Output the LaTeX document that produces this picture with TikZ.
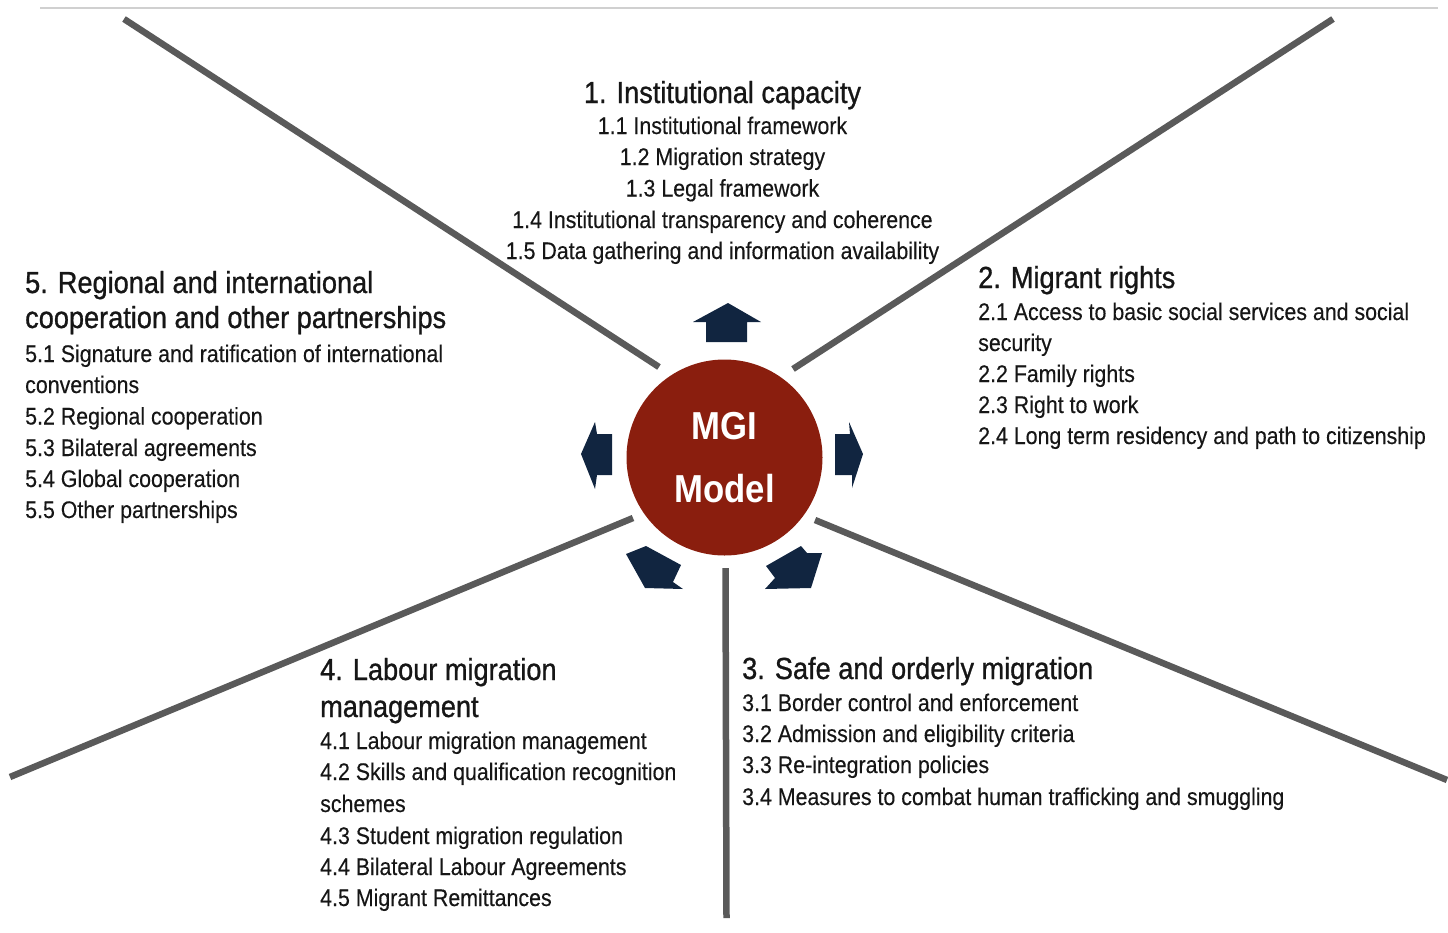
\documentclass[tikz,border=0pt]{standalone}
\usepackage{fontspec}
\setmainfont{Liberation Sans}
\newfontfamily\narrowsans[FakeStretch=0.89]{Liberation Sans}
\newfontfamily\narrowitem[FakeStretch=0.89, FakeBold=0.3]{Liberation Sans}
\newfontfamily\narrowhead[FakeStretch=0.89, FakeBold=0.9]{Liberation Sans}
\definecolor{spokegray}{RGB}{90,90,90}
\definecolor{rulegray}{RGB}{208,208,208}
\definecolor{mgired}{RGB}{138,30,14}
\definecolor{navy}{RGB}{17,37,64}
\definecolor{ink}{RGB}{22,22,22}
\tikzset{
  spoke/.style={draw=spokegray, line width=6.5pt},
  blockarrow/.style={fill=navy, draw=none},
  head/.style={inner sep=0pt, text=ink, font=\narrowhead\fontsize{30.5}{36}\selectfont},
  item/.style={inner sep=0pt, text=ink, font=\narrowitem\fontsize{24}{31}\selectfont},
  lft/.style={anchor=base west},
  mid/.style={anchor=base},
}
\begin{document}
\begin{tikzpicture}[x=1pt, y=-1pt]
\useasboundingbox (0,0) rectangle (1448,932);

% thin rule along the top
\coordinate (ruleL) at (40,8);
\coordinate (ruleR) at (1438,8);
\draw[rulegray, line width=1.5pt] (ruleL) -- (ruleR);

% central circle
\node[circle, fill=mgired, minimum size=196pt, inner sep=0pt, text=white,
      align=center, font=\narrowsans\bfseries\fontsize{39}{63}\selectfont]
  (mgi) at (724.5,457.5) {MGI\\Model};

% spokes separating the five areas
\coordinate (ulOut) at (124,19);   \coordinate (ulIn) at (659,367);
\coordinate (urOut) at (1333,19);  \coordinate (urIn) at (793,369);
\coordinate (llOut) at (10,777);   \coordinate (llIn) at (633,518);
\coordinate (lrOut) at (1447,780); \coordinate (lrIn) at (815,520);
\coordinate (bIn) at (725.5,568);  \coordinate (bOut) at (726.5,918);
\draw[spoke] (ulOut) -- (ulIn);
\draw[spoke] (urOut) -- (urIn);
\draw[spoke] (llOut) -- (llIn);
\draw[spoke] (lrOut) -- (lrIn);
\draw[spoke] (bIn) -- (bOut);

% block arrows around the circle
\fill[blockarrow] (728,303) -- (761,322) -- (747,322) -- (747,342) -- (706,342) -- (706,322) -- (693,322) -- cycle;
\fill[blockarrow] (581,454) -- (595,422) -- (597,434) -- (612,434) -- (612,475) -- (597,475) -- (595,489) -- cycle;
\fill[blockarrow] (863,454) -- (849,422) -- (850,434) -- (835,434) -- (835,475) -- (852,475) -- (852,488) -- cycle;
\fill[blockarrow] (626,554) -- (646,546) -- (681,565) -- (673,582) -- (683,589) -- (645,588) -- cycle;
\fill[blockarrow] (766,566) -- (801,546) -- (807,553) -- (822,553) -- (811,588) -- (765,589) -- (775,578) -- cycle;

% 1. Institutional capacity
\node[head, mid] (t1) at (722.5,103) {1. Institutional capacity};
\node[item, mid] (i11) at (722.5,134) {1.1 Institutional framework};
\node[item, mid] (i12) at (722.5,165) {1.2 Migration strategy};
\node[item, mid] (i13) at (722.5,196.5) {1.3 Legal framework};
\node[item, mid] (i14) at (722.5,228) {1.4 Institutional transparency and coherence};
\node[item, mid] (i15) at (722.5,259) {1.5 Data gathering and information availability};

% 2. Migrant rights
\node[head, lft] (t2) at (978,288) {2. Migrant rights};
\node[item, lft] (i21) at (978,320) {2.1 Access to basic social services and social};
\node[item, lft] (i21b) at (978,351) {security};
\node[item, lft] (i22) at (978,382) {2.2 Family rights};
\node[item, lft] (i23) at (978,413) {2.3 Right to work};
\node[item, lft] (i24) at (978,444) {2.4 Long term residency and path to citizenship};

% 3. Safe and orderly migration
\node[head, lft] (t3) at (742,679) {3. Safe and orderly migration};
\node[item, lft] (i31) at (742,711) {3.1 Border control and enforcement};
\node[item, lft] (i32) at (742,742) {3.2 Admission and eligibility criteria};
\node[item, lft] (i33) at (742,773) {3.3 Re-integration policies};
\node[item, lft] (i34) at (742,805) {3.4 Measures to combat human trafficking and smuggling};

% 4. Labour migration management
\node[head, lft] (t4) at (320,680) {4. Labour migration};
\node[head, lft] (t4b) at (320,717) {management};
\node[item, lft] (i41) at (320,749) {4.1 Labour migration management};
\node[item, lft] (i42) at (320,780) {4.2 Skills and qualification recognition};
\node[item, lft] (i42b) at (320,812) {schemes};
\node[item, lft] (i43) at (320,844) {4.3 Student migration regulation};
\node[item, lft] (i44) at (320,875) {4.4 Bilateral Labour Agreements};
\node[item, lft] (i45) at (320,906) {4.5 Migrant Remittances};

% 5. Regional and international cooperation
\node[head, lft] (t5) at (25,293) {5. Regional and international};
\node[head, lft] (t5b) at (25,328) {cooperation and other partnerships};
\node[item, lft] (i51) at (25,362) {5.1 Signature and ratification of international};
\node[item, lft] (i51b) at (25,393) {conventions};
\node[item, lft] (i52) at (25,424.5) {5.2 Regional cooperation};
\node[item, lft] (i53) at (25,456) {5.3 Bilateral agreements};
\node[item, lft] (i54) at (25,487) {5.4 Global cooperation};
\node[item, lft] (i55) at (25,518) {5.5 Other partnerships};
\end{tikzpicture}
\end{document}
